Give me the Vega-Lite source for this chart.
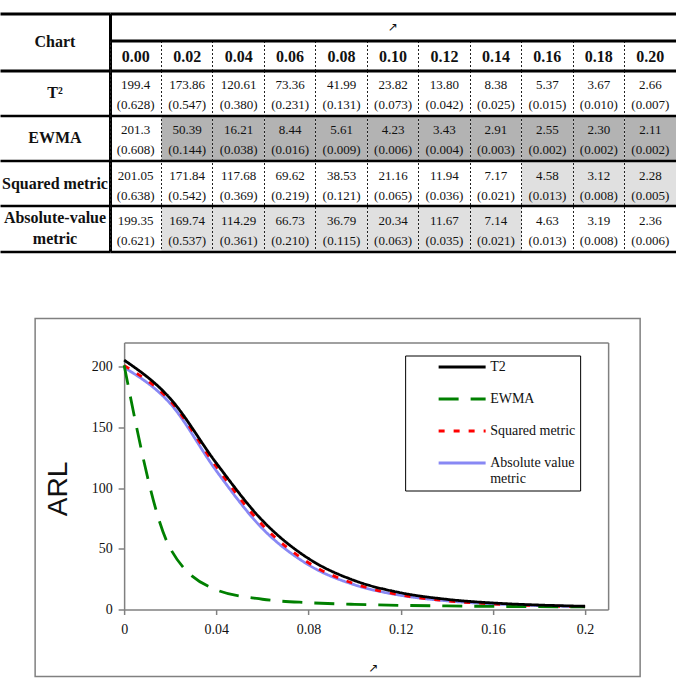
{
  "$schema": "https://vega.github.io/schema/vega-lite/v6.json",
  "background": "white",
  "padding": {"left": 0, "top": 13.5, "right": 0, "bottom": 0},
  "datasets": {
    "cells": [
      {"chart": "T²", "shift": "0.00", "arl": "199.4", "sd": "0.628"},
      {"chart": "T²", "shift": "0.02", "arl": "173.86", "sd": "0.547"},
      {"chart": "T²", "shift": "0.04", "arl": "120.61", "sd": "0.380"},
      {"chart": "T²", "shift": "0.06", "arl": "73.36", "sd": "0.231"},
      {"chart": "T²", "shift": "0.08", "arl": "41.99", "sd": "0.131"},
      {"chart": "T²", "shift": "0.10", "arl": "23.82", "sd": "0.073"},
      {"chart": "T²", "shift": "0.12", "arl": "13.80", "sd": "0.042"},
      {"chart": "T²", "shift": "0.14", "arl": "8.38", "sd": "0.025"},
      {"chart": "T²", "shift": "0.16", "arl": "5.37", "sd": "0.015"},
      {"chart": "T²", "shift": "0.18", "arl": "3.67", "sd": "0.010"},
      {"chart": "T²", "shift": "0.20", "arl": "2.66", "sd": "0.007"},
      {"chart": "EWMA", "shift": "0.00", "arl": "201.3", "sd": "0.608"},
      {"chart": "EWMA", "shift": "0.02", "arl": "50.39", "sd": "0.144"},
      {"chart": "EWMA", "shift": "0.04", "arl": "16.21", "sd": "0.038"},
      {"chart": "EWMA", "shift": "0.06", "arl": "8.44", "sd": "0.016"},
      {"chart": "EWMA", "shift": "0.08", "arl": "5.61", "sd": "0.009"},
      {"chart": "EWMA", "shift": "0.10", "arl": "4.23", "sd": "0.006"},
      {"chart": "EWMA", "shift": "0.12", "arl": "3.43", "sd": "0.004"},
      {"chart": "EWMA", "shift": "0.14", "arl": "2.91", "sd": "0.003"},
      {"chart": "EWMA", "shift": "0.16", "arl": "2.55", "sd": "0.002"},
      {"chart": "EWMA", "shift": "0.18", "arl": "2.30", "sd": "0.002"},
      {"chart": "EWMA", "shift": "0.20", "arl": "2.11", "sd": "0.002"},
      {"chart": "Squared metric", "shift": "0.00", "arl": "201.05", "sd": "0.638"},
      {"chart": "Squared metric", "shift": "0.02", "arl": "171.84", "sd": "0.542"},
      {"chart": "Squared metric", "shift": "0.04", "arl": "117.68", "sd": "0.369"},
      {"chart": "Squared metric", "shift": "0.06", "arl": "69.62", "sd": "0.219"},
      {"chart": "Squared metric", "shift": "0.08", "arl": "38.53", "sd": "0.121"},
      {"chart": "Squared metric", "shift": "0.10", "arl": "21.16", "sd": "0.065"},
      {"chart": "Squared metric", "shift": "0.12", "arl": "11.94", "sd": "0.036"},
      {"chart": "Squared metric", "shift": "0.14", "arl": "7.17", "sd": "0.021"},
      {"chart": "Squared metric", "shift": "0.16", "arl": "4.58", "sd": "0.013"},
      {"chart": "Squared metric", "shift": "0.18", "arl": "3.12", "sd": "0.008"},
      {"chart": "Squared metric", "shift": "0.20", "arl": "2.28", "sd": "0.005"},
      {"chart": "Absolute-value metric", "shift": "0.00", "arl": "199.35", "sd": "0.621"},
      {"chart": "Absolute-value metric", "shift": "0.02", "arl": "169.74", "sd": "0.537"},
      {"chart": "Absolute-value metric", "shift": "0.04", "arl": "114.29", "sd": "0.361"},
      {"chart": "Absolute-value metric", "shift": "0.06", "arl": "66.73", "sd": "0.210"},
      {"chart": "Absolute-value metric", "shift": "0.08", "arl": "36.79", "sd": "0.115"},
      {"chart": "Absolute-value metric", "shift": "0.10", "arl": "20.34", "sd": "0.063"},
      {"chart": "Absolute-value metric", "shift": "0.12", "arl": "11.67", "sd": "0.035"},
      {"chart": "Absolute-value metric", "shift": "0.14", "arl": "7.14", "sd": "0.021"},
      {"chart": "Absolute-value metric", "shift": "0.16", "arl": "4.63", "sd": "0.013"},
      {"chart": "Absolute-value metric", "shift": "0.18", "arl": "3.19", "sd": "0.008"},
      {"chart": "Absolute-value metric", "shift": "0.20", "arl": "2.36", "sd": "0.006"}
    ],
    "curves": [
      {"chart": "Absolute value metric", "shift": 0.00, "arl": 199.35},
      {"chart": "Absolute value metric", "shift": 0.02, "arl": 169.74},
      {"chart": "Absolute value metric", "shift": 0.04, "arl": 114.29},
      {"chart": "Absolute value metric", "shift": 0.06, "arl": 66.73},
      {"chart": "Absolute value metric", "shift": 0.08, "arl": 36.79},
      {"chart": "Absolute value metric", "shift": 0.10, "arl": 20.34},
      {"chart": "Absolute value metric", "shift": 0.12, "arl": 11.67},
      {"chart": "Absolute value metric", "shift": 0.14, "arl": 7.14},
      {"chart": "Absolute value metric", "shift": 0.16, "arl": 4.63},
      {"chart": "Absolute value metric", "shift": 0.18, "arl": 3.19},
      {"chart": "Absolute value metric", "shift": 0.20, "arl": 2.36},
      {"chart": "Squared metric", "shift": 0.00, "arl": 201.05},
      {"chart": "Squared metric", "shift": 0.02, "arl": 171.84},
      {"chart": "Squared metric", "shift": 0.04, "arl": 117.68},
      {"chart": "Squared metric", "shift": 0.06, "arl": 69.62},
      {"chart": "Squared metric", "shift": 0.08, "arl": 38.53},
      {"chart": "Squared metric", "shift": 0.10, "arl": 21.16},
      {"chart": "Squared metric", "shift": 0.12, "arl": 11.94},
      {"chart": "Squared metric", "shift": 0.14, "arl": 7.17},
      {"chart": "Squared metric", "shift": 0.16, "arl": 4.58},
      {"chart": "Squared metric", "shift": 0.18, "arl": 3.12},
      {"chart": "Squared metric", "shift": 0.20, "arl": 2.28},
      {"chart": "EWMA", "shift": 0.00, "arl": 201.3},
      {"chart": "EWMA", "shift": 0.02, "arl": 50.39},
      {"chart": "EWMA", "shift": 0.04, "arl": 16.21},
      {"chart": "EWMA", "shift": 0.06, "arl": 8.44},
      {"chart": "EWMA", "shift": 0.08, "arl": 5.61},
      {"chart": "EWMA", "shift": 0.10, "arl": 4.23},
      {"chart": "EWMA", "shift": 0.12, "arl": 3.43},
      {"chart": "EWMA", "shift": 0.14, "arl": 2.91},
      {"chart": "EWMA", "shift": 0.16, "arl": 2.55},
      {"chart": "EWMA", "shift": 0.18, "arl": 2.30},
      {"chart": "EWMA", "shift": 0.20, "arl": 2.11},
      {"chart": "T2", "shift": 0.00, "arl": 205.5},
      {"chart": "T2", "shift": 0.02, "arl": 173.86},
      {"chart": "T2", "shift": 0.04, "arl": 120.61},
      {"chart": "T2", "shift": 0.06, "arl": 73.36},
      {"chart": "T2", "shift": 0.08, "arl": 41.99},
      {"chart": "T2", "shift": 0.10, "arl": 23.82},
      {"chart": "T2", "shift": 0.12, "arl": 13.80},
      {"chart": "T2", "shift": 0.14, "arl": 8.38},
      {"chart": "T2", "shift": 0.16, "arl": 5.37},
      {"chart": "T2", "shift": 0.18, "arl": 3.67},
      {"chart": "T2", "shift": 0.20, "arl": 2.66}
    ]
  },
  "vconcat": [
    {
      "hconcat": [
        {
          "vconcat": [
            {
              "width": 110,
              "height": 57,
              "data": {"values": [{"heading": "Chart"}]},
              "mark": {"type": "text", "fontSize": 16, "fontWeight": "bold"},
              "encoding": {
                "x": {"field": "heading", "type": "nominal", "scale": {"type": "band", "paddingInner": 0, "paddingOuter": 0},
                      "axis": {"orient": "top", "labels": false, "ticks": false, "title": null, "grid": false, "domainColor": "black", "domainWidth": 3, "zindex": 1}},
                "y": {"field": "heading", "type": "nominal", "scale": {"type": "band", "paddingInner": 0, "paddingOuter": 0},
                      "axis": {"orient": "right", "labels": false, "ticks": false, "title": null, "domainColor": "black", "domainWidth": 3,
                               "grid": true, "gridColor": "black", "gridWidth": 3, "bandPosition": 1, "zindex": 1}},
                "text": {"field": "heading"}
              }
            },
            {
              "width": 110,
              "height": 181,
              "data": {"name": "cells"},
              "transform": [{"filter": "datum.shift == '0.00'"}],
              "encoding": {
                "y": {"field": "chart", "type": "nominal", "sort": ["T²", "EWMA", "Squared metric", "Absolute-value metric"],
                      "scale": {"type": "band", "paddingInner": 0, "paddingOuter": 0},
                      "axis": {"orient": "right", "labels": false, "ticks": false, "title": null, "domainColor": "black", "domainWidth": 3,
                               "grid": true, "gridColor": "black", "gridWidth": 2.5, "bandPosition": 1, "zindex": 1}}
              },
              "layer": [
                {
                  "transform": [{"filter": "datum.chart != 'Absolute-value metric'"}],
                  "mark": {"type": "text", "fontSize": 16, "fontWeight": "bold"},
                  "encoding": {"text": {"field": "chart"}}
                },
                {
                  "transform": [
                    {"filter": "datum.chart == 'Absolute-value metric'"},
                    {"calculate": "['Absolute-value', 'metric']", "as": "label"}
                  ],
                  "mark": {"type": "text", "fontSize": 16, "fontWeight": "bold", "lineHeight": 21, "yOffset": -11},
                  "encoding": {"text": {"field": "label"}}
                }
              ]
            }
          ],
          "spacing": 0,
          "bounds": "flush"
        },
        {
          "vconcat": [
            {
              "width": 566,
              "height": 27,
              "data": {"values": [{"symbol": "↗"}]},
              "mark": {"type": "text", "font": "DejaVu Sans", "fontSize": 12},
              "encoding": {
                "x": {"field": "symbol", "type": "nominal", "scale": {"type": "band", "paddingInner": 0, "paddingOuter": 0},
                      "axis": {"orient": "top", "labels": false, "ticks": false, "title": null, "grid": false, "domainColor": "black", "domainWidth": 3, "zindex": 1}},
                "text": {"field": "symbol"}
              }
            },
            {
              "width": 566,
              "height": 30,
              "data": {"name": "cells"},
              "transform": [{"filter": "datum.chart == 'T²'"}],
              "mark": {"type": "text", "fontSize": 16, "fontWeight": "bold", "yOffset": 1},
              "encoding": {
                "x": {"field": "shift", "type": "nominal", "scale": {"type": "band", "paddingInner": 0, "paddingOuter": 0},
                      "axis": {"orient": "top", "labels": false, "ticks": false, "title": null, "domainColor": "black", "domainWidth": 3,
                               "grid": true, "gridColor": "#222222", "gridWidth": 1, "gridDash": [2, 2], "bandPosition": 0, "zindex": 1}},
                "text": {"field": "shift"}
              }
            },
            {
              "width": 566,
              "height": 181,
              "data": {"name": "cells"},
              "encoding": {
                "x": {"field": "shift", "type": "nominal", "scale": {"type": "band", "paddingInner": 0, "paddingOuter": 0},
                      "axis": {"orient": "top", "labels": false, "ticks": false, "title": null, "domainColor": "black", "domainWidth": 3,
                               "grid": true, "gridColor": "#222222", "gridWidth": 1, "gridDash": [2, 2], "bandPosition": 0, "zindex": 1}},
                "y": {"field": "chart", "type": "nominal", "sort": ["T²", "EWMA", "Squared metric", "Absolute-value metric"],
                      "scale": {"type": "band", "paddingInner": 0, "paddingOuter": 0},
                      "axis": {"labels": false, "ticks": false, "title": null, "domain": false,
                               "grid": true, "gridColor": "black", "gridWidth": 2.5, "bandPosition": 1, "zindex": 1}}
              },
              "layer": [
                {
                  "transform": [
                    {"calculate": "toNumber(datum.arl)", "as": "value"},
                    {"window": [{"op": "rank", "as": "rank"}], "groupby": ["shift"], "sort": [{"field": "value", "order": "ascending"}]},
                    {"filter": "datum.shift != '0.00' && datum.rank <= 2"}
                  ],
                  "mark": {"type": "rect"},
                  "encoding": {
                    "color": {"field": "rank", "type": "ordinal", "scale": {"domain": [1, 2], "range": ["#b3b3b3", "#e0e0e0"]}, "legend": null}
                  }
                },
                {
                  "mark": {"type": "text", "fontSize": 13, "yOffset": -8},
                  "encoding": {"text": {"field": "arl"}}
                },
                {
                  "transform": [{"calculate": "'(' + datum.sd + ')'", "as": "sdLabel"}],
                  "mark": {"type": "text", "fontSize": 13, "yOffset": 12},
                  "encoding": {"text": {"field": "sdLabel"}}
                }
              ]
            }
          ],
          "spacing": 0,
          "bounds": "flush"
        }
      ],
      "spacing": -3
    },
    {
      "width": 605,
      "height": 358,
      "view": {"stroke": "#808080", "strokeWidth": 1.5},
      "data": {"name": "curves"},
      "layer": [
        {
          "transform": [{"filter": "datum.chart == 'Squared metric' || datum.chart == 'Absolute value metric'"}],
          "mark": {"type": "line", "interpolate": "monotone"},
          "encoding": {
            "x": {"field": "shift", "type": "quantitative", "scale": {"domain": [0, 0.21], "range": [89, 573], "nice": false, "zero": false},
                  "axis": {"orient": "top", "offset": -24, "labels": false, "ticks": false, "title": null, "grid": false, "domainColor": "#808080", "domainWidth": 1.5}},
            "y": {"field": "arl", "type": "quantitative", "scale": {"domain": [0, 220], "range": [291, 24], "nice": false, "zero": false},
                  "axis": {"orient": "right", "offset": -32, "labels": false, "ticks": false, "title": null, "grid": false, "domainColor": "#808080", "domainWidth": 1.5}},
            "color": {"field": "chart", "type": "nominal",
                      "scale": {"domain": ["T2", "EWMA", "Squared metric", "Absolute value metric"], "range": ["#000000", "#008000", "#ff0000", "#8888f4"]},
                      "legend": {"labelExpr": "datum.label == 'Absolute value metric' ? ['Absolute value', 'metric'] : datum.label"}},
            "strokeDash": {"field": "chart", "type": "nominal",
                           "scale": {"domain": ["T2", "EWMA", "Squared metric", "Absolute value metric"], "range": [[1, 0], [20, 12], [6, 9], [1, 0]]},
                           "legend": {"labelExpr": "datum.label == 'Absolute value metric' ? ['Absolute value', 'metric'] : datum.label"}},
            "strokeWidth": {"field": "chart", "type": "nominal",
                            "scale": {"domain": ["T2", "EWMA", "Squared metric", "Absolute value metric"], "range": [2.8, 2.8, 3, 4]}, "legend": null}
          }
        },
        {
          "transform": [{"filter": "datum.chart == 'T2' || datum.chart == 'EWMA'"}],
          "mark": {"type": "line", "interpolate": "monotone"},
          "encoding": {
            "x": {"field": "shift", "type": "quantitative", "scale": {"domain": [0, 0.21], "range": [89, 573], "nice": false, "zero": false},
                  "axis": {"orient": "bottom", "offset": -67, "values": [0, 0.04, 0.08, 0.12, 0.16, 0.2], "format": "~g", "labelFlush": false,
                           "grid": false, "domainColor": "#808080", "domainWidth": 1.5, "tickColor": "#808080", "tickWidth": 1.5, "tickSize": 5,
                           "labelFontSize": 14, "labelPadding": 8,
                           "title": "↗", "titleFont": "DejaVu Sans", "titleFontSize": 12, "titleFontWeight": "normal",
                           "titleX": 338, "titleY": 58, "titleBaseline": "middle", "titleAlign": "center"}},
            "y": {"field": "arl", "type": "quantitative", "scale": {"domain": [0, 220], "range": [291, 24], "nice": false, "zero": false},
                  "axis": {"orient": "left", "offset": -89, "values": [0, 50, 100, 150, 200],
                           "grid": false, "domainColor": "#808080", "domainWidth": 1.5, "tickColor": "#808080", "tickWidth": 1.5, "tickSize": 6,
                           "labelFontSize": 14, "labelPadding": 6,
                           "title": "ARL", "titleFont": "Liberation Sans", "titleFontSize": 28, "titleFontWeight": "normal",
                           "titleX": -52, "titleY": 170, "titleAlign": "center"}},
            "color": {"field": "chart", "type": "nominal",
                      "scale": {"domain": ["T2", "EWMA", "Squared metric", "Absolute value metric"], "range": ["#000000", "#008000", "#ff0000", "#8888f4"]}},
            "strokeDash": {"field": "chart", "type": "nominal",
                           "scale": {"domain": ["T2", "EWMA", "Squared metric", "Absolute value metric"], "range": [[1, 0], [20, 12], [6, 9], [1, 0]]}},
            "strokeWidth": {"field": "chart", "type": "nominal",
                            "scale": {"domain": ["T2", "EWMA", "Squared metric", "Absolute value metric"], "range": [2.8, 2.8, 3, 4]}, "legend": null}
          }
        }
      ],
      "resolve": {"axis": {"x": "independent", "y": "independent"}}
    }
  ],
  "spacing": 66,
  "center": true,
  "resolve": {
    "scale": {"color": "independent", "strokeDash": "independent", "strokeWidth": "independent"},
    "legend": {"color": "independent", "strokeDash": "independent"}
  },
  "config": {
    "view": {"stroke": null},
    "font": "Liberation Serif",
    "text": {"font": "Liberation Serif", "color": "#111111"},
    "axis": {"labelFont": "Liberation Serif", "titleFont": "Liberation Serif", "labelColor": "#111111", "titleColor": "#111111"},
    "legend": {
      "orient": "none", "legendX": 370, "legendY": 37, "title": null,
      "strokeColor": "black", "fillColor": "white", "padding": 4,
      "symbolType": "stroke", "symbolSize": 2209, "symbolStrokeWidth": 3, "symbolOffset": 28,
      "labelFont": "Liberation Serif", "labelFontSize": 14, "labelColor": "#111111", "labelOffset": 3,
      "clipHeight": 15, "rowPadding": 17
    }
  }
}
